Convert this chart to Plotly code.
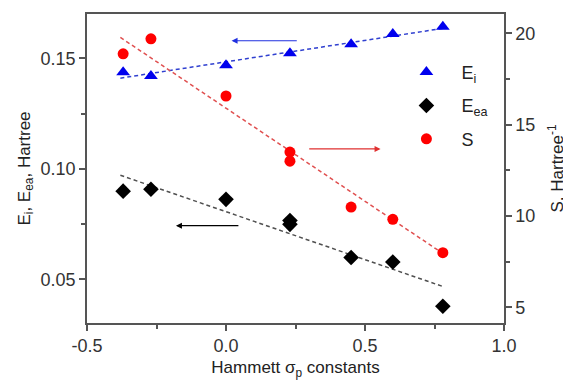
import plotly.graph_objects as go

# Hammett sigma_p constants (x)
sigma = [-0.37, -0.27, 0.0, 0.23, 0.23, 0.45, 0.60, 0.78]
sigma_ei = [-0.37, -0.27, 0.0, 0.23, 0.45, 0.60, 0.78]

# Ionisation energy Ei (Hartree, left axis)
ei = [0.1437, 0.1420, 0.1468, 0.1523, 0.1563, 0.1610, 0.1642]
# Electron affinity Eea (Hartree, left axis)
eea = [0.0899, 0.0908, 0.0862, 0.0766, 0.0749, 0.0599, 0.0579, 0.0379]
# Softness S (Hartree^-1, right axis)
s_vals = [18.88, 19.70, 16.57, 13.50, 13.00, 10.49, 9.82, 7.99]

# Linear-fit dashed lines (endpoints)
fit_x = [-0.38, 0.78]
fit_ei = [0.1410, 0.1635]
fit_eea = [0.0971, 0.0468]
fit_s = [19.78, 7.95]

# tick labels
x_ticks = [-0.5, 0.0, 0.5, 1.0]
x_labels = ["-0.5", "0.0", "0.5", "1.0"]
y_ticks = [0.05, 0.10, 0.15]
y_labels = ["0.05", "0.10", "0.15"]
y2_ticks = [5, 10, 15, 20]
y2_labels = ["5", "10", "15", "20"]

FONT = "Liberation Sans, Arial, sans-serif"
FRAME = "#555555"

fig = go.Figure()

fig.add_trace(go.Scatter(x=fit_x, y=fit_ei, mode="lines", showlegend=False,
                         line=dict(color="#3040d0", width=1.5, dash="4px,3px")))
fig.add_trace(go.Scatter(x=fit_x, y=fit_eea, mode="lines", showlegend=False,
                         line=dict(color="#505050", width=1.5, dash="4px,3px")))
fig.add_trace(go.Scatter(x=fit_x, y=fit_s, mode="lines", showlegend=False, yaxis="y2",
                         line=dict(color="#e05050", width=1.5, dash="4px,3px")))

fig.add_trace(go.Scatter(x=sigma_ei, y=ei, mode="markers", name="E<sub>i</sub>",
                         legendgroup="a",
                         marker=dict(symbol="triangle-up", size=12, color="#0000ee")))
fig.add_trace(go.Scatter(x=sigma, y=eea, mode="markers", name="E<sub>ea</sub>",
                         legendgroup="b",
                         marker=dict(symbol="diamond", size=12, color="#000000")))
fig.add_trace(go.Scatter(x=sigma, y=s_vals, mode="markers", name="S", yaxis="y2",
                         legendgroup="c",
                         marker=dict(symbol="circle", size=11, color="#ff0000")))

# arrows indicating the axis of each series
arrows = [
    (0.26, 0.1579, 0.02, 0.1579, "#2030e0"),
    (0.294, 0.109, 0.556, 0.109, "#e03030"),
    (0.05, 0.0743, -0.18, 0.0743, "#000000"),
]
for x0, y0, x1, y1, c in arrows:
    fig.add_annotation(x=x1, y=y1, ax=x0, ay=y0, xref="x", yref="y", axref="x", ayref="y",
                       showarrow=True, arrowhead=2, arrowsize=1, arrowwidth=1.2,
                       arrowcolor=c, text="")

axis_common = dict(showline=True, linecolor=FRAME, linewidth=1.5, ticks="outside",
                   tickcolor=FRAME, ticklen=6, tickwidth=1.5, showgrid=False, zeroline=False,
                   automargin=False,
                   tickfont=dict(size=18, color="#333333", family=FONT),
                   title_font=dict(size=17, color="#222222", family=FONT))

# the page body has an 8px default margin, so the figure is 8px smaller
fig.update_layout(
    width=563, height=376,
    margin=dict(l=79, r=67, t=6, b=61),
    paper_bgcolor="white", plot_bgcolor="white",
    font=dict(family=FONT, size=18, color="#222222"),
    xaxis=dict(range=[-0.5, 1.0], tickvals=x_ticks, ticktext=x_labels, mirror=True,
               minor=dict(ticks="outside", dtick=0.25, ticklen=4, tickcolor=FRAME),
               title=dict(text="Hammett σ<sub>p</sub> constants", standoff=6),
               **axis_common),
    yaxis=dict(range=[0.0303, 0.170], tickvals=y_ticks, ticktext=y_labels,
               minor=dict(ticks="outside", dtick=0.025, ticklen=4, tickcolor=FRAME),
               title=dict(text="E<sub>i</sub>, E<sub>ea</sub>, Hartree", standoff=6),
               **axis_common),
    yaxis2=dict(range=[4.14, 21.06], tickvals=y2_ticks, ticktext=y2_labels,
                overlaying="y", side="right",
                minor=dict(ticks="outside", dtick=2.5, ticklen=4, tickcolor=FRAME),
                title=dict(text="S, Hartree<sup>-1</sup>", standoff=17),
                **axis_common),
    legend=dict(x=0.73, y=0.871, xanchor="left", yanchor="top",
                bgcolor="rgba(0,0,0,0)", font=dict(size=18, family=FONT, color="#222222"),
                itemwidth=60, tracegroupgap=7),
)

fig.write_html("out.html")
